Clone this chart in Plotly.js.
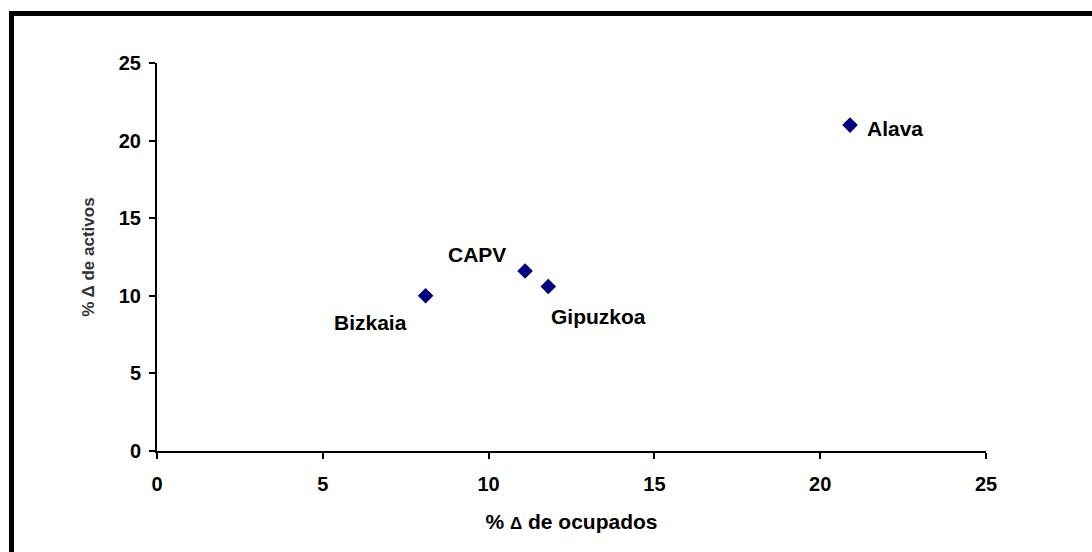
<!DOCTYPE html>
<html>
<head>
<meta charset="utf-8">
<script src="https://cdn.plot.ly/plotly-3.0.1.min.js"></script>
<style>
  html, body { margin: 0; padding: 0; background: #fff; }
  #wrap { position: relative; width: 1092px; height: 552px; overflow: hidden; }
  #chart { width: 1092px; height: 552px; }
  #frame { position: absolute; left: 9px; top: 11px; width: 1200px; height: 700px;
           border-left: 5px solid #000; border-top: 5px solid #000; pointer-events: none; }
</style>
</head>
<body>
<div id="wrap">
  <div id="chart"></div>
  <div id="frame"></div>
</div>
<script>
const regions = ["Bizkaia", "CAPV", "Gipuzkoa", "Alava"];
const ocupados = [8.1, 11.1, 11.8, 20.9];
const activos = [10.0, 11.6, 10.6, 21.0];
const labelShiftX = [-55, -48, 50, 45];
const labelShiftY = [-27, 16, -30, -3];
const tickVals = [0, 5, 10, 15, 20, 25];

const fam = "Liberation Sans, Arial, sans-serif";

const trace = {
  type: "scatter",
  mode: "markers",
  x: ocupados,
  y: activos,
  marker: { symbol: "diamond", size: 12, color: "#000080" },
  hoverinfo: "skip"
};

const annotations = regions.map((r, i) => ({
  x: ocupados[i], y: activos[i], xref: "x", yref: "y",
  text: r, showarrow: false,
  xshift: labelShiftX[i], yshift: labelShiftY[i],
  font: { family: fam, size: 21, color: "#000", weight: "bold" }
}));

const layout = {
  width: 1092, height: 552,
  margin: { l: 157, r: 106, t: 63, b: 101 },
  paper_bgcolor: "#fff", plot_bgcolor: "#fff",
  showlegend: false,
  font: { family: fam, size: 20, color: "#000" },
  xaxis: {
    range: [0, 25], tickvals: tickVals, ticktext: tickVals.map(String),
    showgrid: false, zeroline: false, showline: true, linecolor: "#000", linewidth: 2,
    ticks: "outside", ticklen: 6, tickwidth: 2, tickcolor: "#000",
    ticklabelstandoff: 8,
    tickfont: { family: fam, size: 20, color: "#000", weight: "bold" },
    title: { text: "% <span style=\"font-size:17px\">Δ</span> de ocupados", standoff: 20,
             font: { family: fam, size: 21, color: "#000", weight: "bold" } }
  },
  yaxis: {
    range: [0, 25], tickvals: tickVals, ticktext: tickVals.map(String),
    showgrid: false, zeroline: false, showline: true, linecolor: "#000", linewidth: 2,
    ticks: "outside", ticklen: 6, tickwidth: 2, tickcolor: "#000",
    ticklabelstandoff: 4,
    tickfont: { family: fam, size: 20, color: "#000", weight: "bold" },
    title: { text: "% Δ de activos", standoff: 20,
             font: { family: fam, size: 17, color: "#333", weight: "bold" } }
  },
  annotations: annotations
};

Plotly.newPlot("chart", [trace], layout, { staticPlot: true, displayModeBar: false });
</script>
</body>
</html>
